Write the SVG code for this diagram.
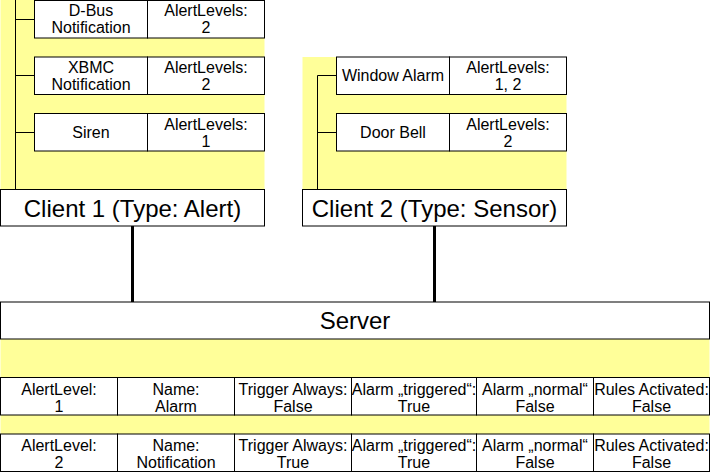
<svg xmlns="http://www.w3.org/2000/svg" width="711" height="473" viewBox="0 0 711 473">
<style>
.y{fill:#ffff99;stroke:none}
.b{fill:#ffffff;stroke:#000000;stroke-width:1}
.l{fill:none;stroke:#000000;stroke-width:1}
.c{stroke:#000000;stroke-width:3;fill:none}
text{font-family:"Liberation Sans",Arial,sans-serif;fill:#000000;text-anchor:middle}
.t{font-size:16px}
.h{font-size:24px}
</style>
<rect x="0" y="0" width="711" height="473" fill="#ffffff"/>
<g id="client1">
<rect class="y" x="0.5" y="0" width="264" height="189.5"/>
<path class="l" d="M15.5,0 V189.5 M15.5,19.5 H34.5 M15.5,75.5 H34.5 M15.5,132.5 H34.5"/>
<rect class="b" x="0.5" y="189.5" width="264" height="36.5"/>
<text class="h" x="132.5" y="217">Client 1 (Type: Alert)</text>
</g>
<g id="dbus">
<rect class="b" x="34.5" y="0.5" width="113" height="37.5"/>
<rect class="b" x="147.5" y="0.5" width="117" height="37.5"/>
<text class="t" x="91" y="16">D-Bus</text>
<text class="t" x="91" y="33">Notification</text>
<text class="t" x="206" y="16">AlertLevels:</text>
<text class="t" x="206" y="33">2</text>
</g>
<g id="xbmc">
<rect class="b" x="34.5" y="57" width="113" height="37.5"/>
<rect class="b" x="147.5" y="57" width="117" height="37.5"/>
<text class="t" x="91" y="73">XBMC</text>
<text class="t" x="91" y="90">Notification</text>
<text class="t" x="206" y="73">AlertLevels:</text>
<text class="t" x="206" y="90">2</text>
</g>
<g id="siren">
<rect class="b" x="34.5" y="113.5" width="113" height="37.5"/>
<rect class="b" x="147.5" y="113.5" width="117" height="37.5"/>
<text class="t" x="91" y="138">Siren</text>
<text class="t" x="206" y="130">AlertLevels:</text>
<text class="t" x="206" y="147">1</text>
</g>
<g id="client2">
<rect class="y" x="302.5" y="57" width="264" height="132.5"/>
<path class="l" d="M317.5,75.5 V189.5 M317.5,75.5 H336.5 M317.5,132.5 H336.5"/>
<rect class="b" x="302.5" y="189.5" width="264" height="36.5"/>
<text class="h" x="434.5" y="217">Client 2 (Type: Sensor)</text>
</g>
<g id="window">
<rect class="b" x="336.5" y="57" width="113" height="37.5"/>
<rect class="b" x="449.5" y="57" width="117" height="37.5"/>
<text class="t" x="393" y="81">Window Alarm</text>
<text class="t" x="508" y="73">AlertLevels:</text>
<text class="t" x="508" y="90">1, 2</text>
</g>
<g id="doorbell">
<rect class="b" x="336.5" y="113.5" width="113" height="37.5"/>
<rect class="b" x="449.5" y="113.5" width="117" height="37.5"/>
<text class="t" x="393" y="138">Door Bell</text>
<text class="t" x="508" y="130">AlertLevels:</text>
<text class="t" x="508" y="147">2</text>
</g>
<g id="connectors">
<line class="c" x1="132.5" y1="226" x2="132.5" y2="302"/>
<line class="c" x1="434.5" y1="226" x2="434.5" y2="302"/>
</g>
<g id="server">
<rect class="y" x="0.5" y="339" width="709" height="133"/>
<rect class="b" x="0.5" y="302" width="709" height="37"/>
<text class="h" x="355" y="329">Server</text>
</g>
<g id="row1">
<rect class="b" x="0.5" y="377.5" width="117" height="37.5"/>
<rect class="b" x="117.5" y="377.5" width="117" height="37.5"/>
<rect class="b" x="234.5" y="377.5" width="117" height="37.5"/>
<rect class="b" x="351.5" y="377.5" width="125" height="37.5"/>
<rect class="b" x="476.5" y="377.5" width="117" height="37.5"/>
<rect class="b" x="593.5" y="377.5" width="116" height="37.5"/>
<text class="t" x="59" y="395">AlertLevel:</text>
<text class="t" x="59" y="412">1</text>
<text class="t" x="176" y="395">Name:</text>
<text class="t" x="176" y="412">Alarm</text>
<text class="t" x="293" y="395">Trigger Always:</text>
<text class="t" x="293" y="412">False</text>
<text class="t" x="414" y="395">Alarm „triggered“:</text>
<text class="t" x="414" y="412">True</text>
<text class="t" x="535" y="395">Alarm „normal“</text>
<text class="t" x="535" y="412">False</text>
<text class="t" x="651.5" y="395">Rules Activated:</text>
<text class="t" x="651.5" y="412">False</text>
</g>
<g id="row2">
<rect class="b" x="0.5" y="434" width="117" height="37.5"/>
<rect class="b" x="117.5" y="434" width="117" height="37.5"/>
<rect class="b" x="234.5" y="434" width="117" height="37.5"/>
<rect class="b" x="351.5" y="434" width="125" height="37.5"/>
<rect class="b" x="476.5" y="434" width="117" height="37.5"/>
<rect class="b" x="593.5" y="434" width="116" height="37.5"/>
<text class="t" x="59" y="451">AlertLevel:</text>
<text class="t" x="59" y="468">2</text>
<text class="t" x="176" y="451">Name:</text>
<text class="t" x="176" y="468">Notification</text>
<text class="t" x="293" y="451">Trigger Always:</text>
<text class="t" x="293" y="468">True</text>
<text class="t" x="414" y="451">Alarm „triggered“:</text>
<text class="t" x="414" y="468">True</text>
<text class="t" x="535" y="451">Alarm „normal“</text>
<text class="t" x="535" y="468">False</text>
<text class="t" x="651.5" y="451">Rules Activated:</text>
<text class="t" x="651.5" y="468">False</text>
</g>
</svg>
